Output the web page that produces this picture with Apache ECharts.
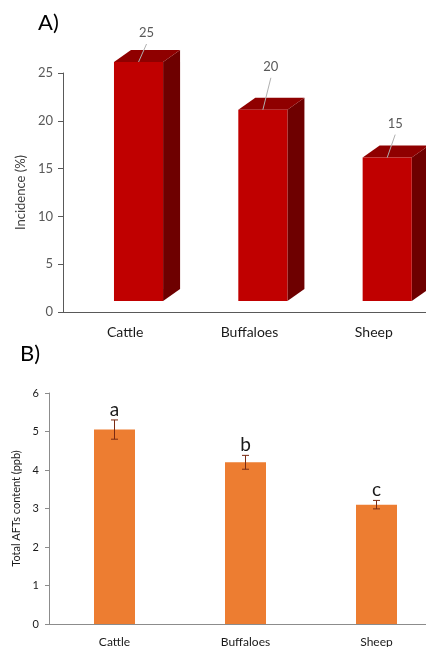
<!DOCTYPE html>
<html>
<head>
<meta charset="utf-8">
<script src="https://cdn.jsdelivr.net/npm/echarts@6/dist/echarts.min.js"></script>
<style>
  html, body { margin: 0; padding: 0; background: #fff; }
  #chart { width: 426px; height: 647px; }
</style>
</head>
<body>
<div id="chart"></div>
<script>
// Species compared in both panels
const species = ['Cattle', 'Buffaloes', 'Sheep'];

// Panel A: incidence of contaminated samples (%)
const incidence = [25, 20, 15];

// Panel B: total aflatoxin content (ppb), mean and standard error
const aftsMean = [5.05, 4.2, 3.1];
const aftsErr = [0.25, 0.18, 0.11];
const groupLetters = ['a', 'b', 'c'];

// Vertical lift of each value label above its bar top (px)
const labelLift = [29, 43, 34];

const FONT = 'Lato, "Liberation Sans", sans-serif';

function renderBar3D(params, api) {
  const idx = api.value(0);
  const val = api.value(1);
  const top = api.coord([idx, val]);
  const base = api.coord([idx, 0]);
  const band = api.size([1, 0])[0];
  const w = band * 0.395;
  const x0 = top[0] - band * 0.09;
  const lift = 11, dx = 17, dy = 12;
  const yT = top[1] - lift;
  const yB = base[1] - lift;
  const lx = x0 + w / 2 + 8;
  const ly = yT - labelLift[params.dataIndex];
  return {
    type: 'group',
    children: [
      { type: 'polygon', shape: { points: [[x0 + w, yT], [x0 + w + dx, yT - dy], [x0 + w + dx, yB - dy], [x0 + w, yB]] },
        style: { fill: '#6e0000' } },
      { type: 'polygon', shape: { points: [[x0, yT], [x0 + dx, yT - dy], [x0 + w + dx, yT - dy], [x0 + w, yT]] },
        style: { fill: '#8f0000' } },
      { type: 'rect', shape: { x: x0, y: yT, width: w, height: yB - yT },
        style: { fill: '#c00000' } },
      { type: 'line', shape: { x1: lx, y1: ly + 11, x2: x0 + w / 2, y2: yT },
        style: { stroke: '#b0b0b0', lineWidth: 1 } },
      { type: 'text', x: lx, y: ly,
        style: { text: String(val), fill: '#595959', font: '13px ' + FONT, align: 'center', verticalAlign: 'middle' } }
    ]
  };
}

function renderErrorBar(params, api) {
  const idx = api.value(0);
  const m = api.value(1);
  const e = api.value(2);
  const hi = api.coord([idx, m + e]);
  const lo = api.coord([idx, m - e]);
  const cap = 3.5;
  const stroke = { stroke: '#7a2a12', lineWidth: 1 };
  return {
    type: 'group',
    children: [
      { type: 'line', shape: { x1: hi[0], y1: hi[1], x2: lo[0], y2: lo[1] }, style: stroke },
      { type: 'line', shape: { x1: hi[0] - cap, y1: hi[1], x2: hi[0] + cap, y2: hi[1] }, style: stroke },
      { type: 'line', shape: { x1: lo[0] - cap, y1: lo[1], x2: lo[0] + cap, y2: lo[1] }, style: stroke },
      { type: 'text', x: hi[0], y: hi[1] - 1,
        style: { text: groupLetters[params.dataIndex], fill: '#1a1a1a', font: '19px ' + FONT, align: 'center', verticalAlign: 'bottom' } }
    ]
  };
}

const chart = echarts.init(document.getElementById('chart'), null, { renderer: 'canvas' });

chart.setOption({
  animation: false,
  backgroundColor: '#ffffff',
  grid: [
    { left: 63, top: 73, width: 373, height: 239, outerBoundsMode: 'none', containLabel: false },
    { left: 49, top: 393, width: 393, height: 231, outerBoundsMode: 'none', containLabel: false }
  ],
  xAxis: [
    { type: 'category', gridIndex: 0, data: species,
      axisLine: { lineStyle: { color: '#595959', width: 1 } },
      axisTick: { length: 5, lineStyle: { color: '#595959' } },
      axisLabel: { color: '#1a1a1a', fontSize: 14, fontFamily: FONT, margin: 13 } },
    { type: 'category', gridIndex: 1, data: species,
      axisLine: { lineStyle: { color: '#8c8c8c', width: 1 } },
      axisTick: { length: 4, lineStyle: { color: '#8c8c8c' } },
      axisLabel: { color: '#1a1a1a', fontSize: 12, fontFamily: FONT, margin: 12 } }
  ],
  yAxis: [
    { type: 'value', gridIndex: 0, min: 0, max: 25, interval: 5,
      name: 'Incidence (%)', nameLocation: 'middle', nameGap: 36,
      nameTextStyle: { color: '#404040', fontSize: 13, fontFamily: FONT },
      axisLine: { show: true, lineStyle: { color: '#595959', width: 1 } },
      axisTick: { show: true, length: 5, lineStyle: { color: '#595959' } },
      axisLabel: { color: '#595959', fontSize: 13, fontFamily: FONT, margin: 10 },
      splitLine: { show: false } },
    { type: 'value', gridIndex: 1, min: 0, max: 6, interval: 1,
      name: 'Total AFTs content (ppb)', nameLocation: 'middle', nameGap: 22,
      nameTextStyle: { color: '#1a1a1a', fontSize: 11, fontFamily: FONT },
      axisLine: { show: true, lineStyle: { color: '#8c8c8c', width: 1 } },
      axisTick: { show: true, length: 4, lineStyle: { color: '#8c8c8c' } },
      axisLabel: { color: '#1a1a1a', fontSize: 11, fontFamily: FONT, margin: 10 },
      splitLine: { show: false } }
  ],
  graphic: [
    { type: 'text', left: 38, top: 12, style: { text: 'A)', fill: '#000', font: '22px ' + FONT } },
    { type: 'text', left: 20, top: 343, style: { text: 'B)', fill: '#000', font: '22px ' + FONT } }
  ],
  series: [
    { type: 'custom', xAxisIndex: 0, yAxisIndex: 0, renderItem: renderBar3D,
      clip: false,
      encode: { x: 0, y: 1 },
      data: incidence.map((v, i) => [i, v]) },
    { type: 'bar', xAxisIndex: 1, yAxisIndex: 1, barWidth: 41,
      itemStyle: { color: '#ed7d31' },
      data: aftsMean },
    { type: 'custom', xAxisIndex: 1, yAxisIndex: 1, renderItem: renderErrorBar,
      clip: false, z: 5,
      encode: { x: 0, y: 1 },
      data: aftsMean.map((m, i) => [i, m, aftsErr[i]]) }
  ]
});
</script>
</body>
</html>
